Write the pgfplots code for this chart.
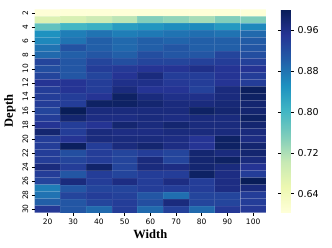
\documentclass[border=0pt]{standalone}
\usepackage{fontspec}
\setmainfont{DejaVu Sans}
\newfontfamily\labelfont{Liberation Serif}
\usepackage{pgfplots}
\pgfplotsset{compat=1.18}
\pgfplotsset{
  /pgf/number format/assume math mode=true,
  colormap={ylgnbu}{rgb255=(255,255,217) rgb255=(237,248,177) rgb255=(199,233,180) rgb255=(127,205,187) rgb255=(65,182,196) rgb255=(29,145,192) rgb255=(34,94,168) rgb255=(37,52,148) rgb255=(8,29,88)}
}
\begin{document}
\begin{tikzpicture}
\path[use as bounding box] (-34.7pt,-34.3pt) rectangle (297.3pt,212.7pt);
\begin{axis}[
  at={(0,0)}, anchor=south west,
  scale only axis, width=231.3pt, height=203.4pt,
  colormap name=ylgnbu,
  point meta min=0.603, point meta max=1.0,
  xmin=15, xmax=105, ymin=1.5, ymax=30.5,
  y dir=reverse,
  axis x line*=bottom, axis y line*=left,
  axis line style={draw=none},
  tick align=outside, major tick length=3pt,
  tick style={black, line width=0.5pt},
  xtick={20,30,...,100},
  ytick={2,4,...,30},
  xticklabel style={font=\fontsize{7.5}{8}\selectfont},
  yticklabel style={font=\fontsize{7.5}{8}\selectfont, rotate=90, anchor=south},
  xlabel={Width}, ylabel={Depth},
  xlabel style={font=\labelfont\bfseries\fontsize{12.5}{14}\selectfont, yshift=2pt},
  ylabel style={font=\labelfont\bfseries\fontsize{12.5}{14}\selectfont},
  colorbar right,
  colorbar shift/.style={xshift=15pt},
  colorbar style={
    width=10pt,
    ytick={0.64,0.72,0.80,0.88,0.96},
    axis line style={draw=none},
    tick align=outside, major tick length=3pt,
    tick style={black, line width=0.5pt},
    yticklabel style={font=\fontsize{9.5}{11}\selectfont,
      /pgf/number format/.cd, fixed, fixed zerofill, precision=2, assume math mode=true},
  },
]
\addplot[matrix plot, mesh/cols=9, point meta=explicit, draw=white, draw opacity=0.07, line width=0.25pt] coordinates {
(20,2)[0.607] (30,2)[0.606] (40,2)[0.605] (50,2)[0.604] (60,2)[0.605] (70,2)[0.606] (80,2)[0.604] (90,2)[0.605] (100,2)[0.606]

(20,3)[0.675] (30,3)[0.680] (40,3)[0.695] (50,3)[0.710] (60,3)[0.750] (70,3)[0.740] (80,3)[0.725] (90,3)[0.750] (100,3)[0.752]

(20,4)[0.775] (30,4)[0.800] (40,4)[0.810] (50,4)[0.835] (60,4)[0.845] (70,4)[0.855] (80,4)[0.857] (90,4)[0.840] (100,4)[0.860]

(20,5)[0.850] (30,5)[0.870] (40,5)[0.880] (50,5)[0.870] (60,5)[0.875] (70,5)[0.880] (80,5)[0.885] (90,5)[0.880] (100,5)[0.890]

(20,6)[0.860] (30,6)[0.880] (40,6)[0.900] (50,6)[0.890] (60,6)[0.900] (70,6)[0.895] (80,6)[0.900] (90,6)[0.900] (100,6)[0.905]

(20,7)[0.880] (30,7)[0.915] (40,7)[0.900] (50,7)[0.890] (60,7)[0.900] (70,7)[0.910] (80,7)[0.900] (90,7)[0.900] (100,7)[0.910]

(20,8)[0.890] (30,8)[0.900] (40,8)[0.910] (50,8)[0.900] (60,8)[0.920] (70,8)[0.910] (80,8)[0.910] (90,8)[0.930] (100,8)[0.920]

(20,9)[0.930] (30,9)[0.910] (40,9)[0.930] (50,9)[0.920] (60,9)[0.930] (70,9)[0.930] (80,9)[0.935] (90,9)[0.940] (100,9)[0.935]

(20,10)[0.920] (30,10)[0.910] (40,10)[0.940] (50,10)[0.945] (60,10)[0.950] (70,10)[0.950] (80,10)[0.960] (90,10)[0.950] (100,10)[0.950]

(20,11)[0.930] (30,11)[0.910] (40,11)[0.930] (50,11)[0.950] (60,11)[0.970] (70,11)[0.940] (80,11)[0.940] (90,11)[0.950] (100,11)[0.940]

(20,12)[0.950] (30,12)[0.950] (40,12)[0.940] (50,12)[0.960] (60,12)[0.960] (70,12)[0.945] (80,12)[0.940] (90,12)[0.950] (100,12)[0.940]

(20,13)[0.940] (30,13)[0.950] (40,13)[0.940] (50,13)[0.970] (60,13)[0.950] (70,13)[0.950] (80,13)[0.935] (90,13)[0.970] (100,13)[0.995]

(20,14)[0.940] (30,14)[0.940] (40,14)[0.950] (50,14)[0.990] (60,14)[0.970] (70,14)[0.960] (80,14)[0.960] (90,14)[0.970] (100,14)[0.990]

(20,15)[0.940] (30,15)[0.940] (40,15)[0.990] (50,15)[0.990] (60,15)[0.980] (70,15)[0.970] (80,15)[0.970] (90,15)[0.975] (100,15)[0.980]

(20,16)[0.930] (30,16)[1.000] (40,16)[0.970] (50,16)[0.970] (60,16)[0.970] (70,16)[0.970] (80,16)[0.990] (90,16)[0.980] (100,16)[0.980]

(20,17)[0.940] (30,17)[0.980] (40,17)[0.965] (50,17)[0.965] (60,17)[0.970] (70,17)[0.965] (80,17)[0.970] (90,17)[0.970] (100,17)[0.990]

(20,18)[0.950] (30,18)[0.940] (40,18)[0.950] (50,18)[0.980] (60,18)[0.970] (70,18)[0.980] (80,18)[0.970] (90,18)[0.970] (100,18)[0.980]

(20,19)[0.980] (30,19)[0.940] (40,19)[0.970] (50,19)[0.965] (60,19)[0.965] (70,19)[0.970] (80,19)[0.970] (90,19)[0.970] (100,19)[0.970]

(20,20)[0.940] (30,20)[0.950] (40,20)[0.970] (50,20)[0.970] (60,20)[0.970] (70,20)[0.965] (80,20)[0.950] (90,20)[0.990] (100,20)[0.965]

(20,21)[0.940] (30,21)[0.995] (40,21)[0.940] (50,21)[0.970] (60,21)[0.980] (70,21)[0.965] (80,21)[0.950] (90,21)[0.990] (100,21)[0.980]

(20,22)[0.940] (30,22)[0.920] (40,22)[0.940] (50,22)[0.930] (60,22)[0.940] (70,22)[0.930] (80,22)[0.980] (90,22)[0.970] (100,22)[0.980]

(20,23)[0.940] (30,23)[0.930] (40,23)[0.940] (50,23)[0.930] (60,23)[0.970] (70,23)[0.930] (80,23)[0.980] (90,23)[0.990] (100,23)[0.970]

(20,24)[0.970] (30,24)[0.940] (40,24)[0.985] (50,24)[0.930] (60,24)[0.970] (70,24)[0.965] (80,24)[0.980] (90,24)[0.970] (100,24)[0.950]

(20,25)[0.940] (30,25)[0.910] (40,25)[0.940] (50,25)[0.930] (60,25)[0.940] (70,25)[0.940] (80,25)[0.990] (90,25)[0.965] (100,25)[0.940]

(20,26)[0.930] (30,26)[0.970] (40,26)[0.940] (50,26)[0.965] (60,26)[0.940] (70,26)[0.965] (80,26)[0.940] (90,26)[0.965] (100,26)[1.000]

(20,27)[0.870] (30,27)[0.910] (40,27)[0.930] (50,27)[0.930] (60,27)[0.940] (70,27)[0.940] (80,27)[0.940] (90,27)[0.965] (100,27)[0.970]

(20,28)[0.880] (30,28)[0.930] (40,28)[0.940] (50,28)[0.935] (60,28)[0.910] (70,28)[0.885] (80,28)[0.930] (90,28)[0.930] (100,28)[0.940]

(20,29)[0.900] (30,29)[0.910] (40,29)[0.930] (50,29)[0.940] (60,29)[0.920] (70,29)[0.970] (80,29)[0.930] (90,29)[0.930] (100,29)[0.940]

(20,30)[0.945] (30,30)[0.910] (40,30)[0.890] (50,30)[0.940] (60,30)[0.890] (70,30)[0.935] (80,30)[0.890] (90,30)[0.945] (100,30)[0.945]
};
\end{axis}
\end{tikzpicture}
\end{document}
